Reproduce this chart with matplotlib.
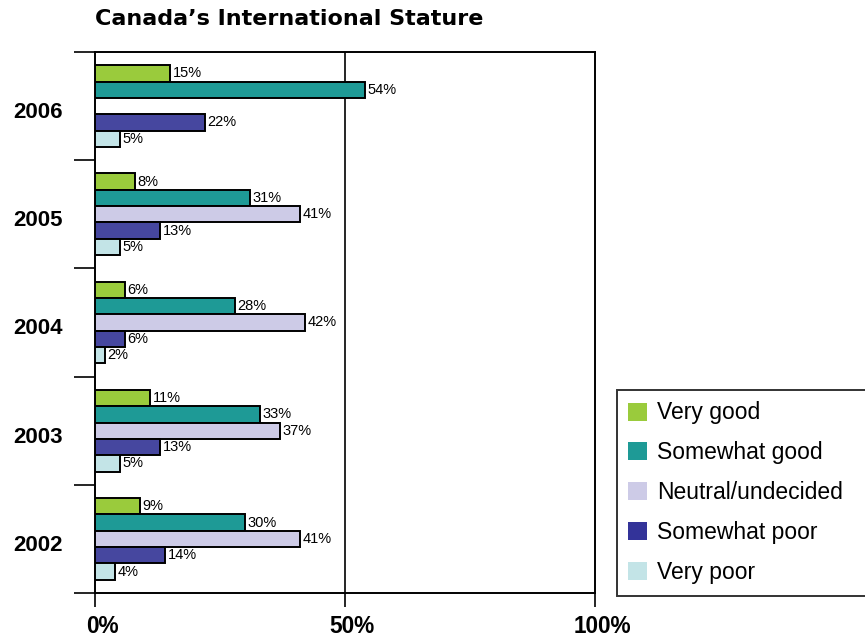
import matplotlib
matplotlib.use("Agg")
import matplotlib.pyplot as plt
from matplotlib.patches import Patch
import matplotlib.transforms as mtransforms
import numpy as np

years = ["2002", "2003", "2004", "2005", "2006"]
categories = ["Very good", "Somewhat good", "Neutral/undecided", "Somewhat poor", "Very poor"]
very_good = [9, 11, 6, 8, 15]
somewhat_good = [30, 33, 28, 31, 54]
neutral = [41, 37, 42, 41, None]
somewhat_poor = [14, 13, 6, 13, 22]
very_poor = [4, 5, 2, 5, 5]
series = [very_good, somewhat_good, neutral, somewhat_poor, very_poor]
bar_colors = ["#9ACB3C", "#1E9A96", "#CDCBE7", "#46479F", "#C3E4E7"]
legend_colors = ["#9ACB3C", "#1E9A96", "#CDCBE7", "#333399", "#C3E4E7"]
xtick_vals = [0, 50, 100]
xtick_labels = ["0%", "50%", "100%"]

W, H = 865, 639
fig = plt.figure(figsize=(W / 100, H / 100), dpi=100)
ax = fig.add_axes([95 / W, 1 - 593 / H, 500 / W, (593 - 52) / H])

h = 16.3 / 108
for j, (vals, col) in enumerate(zip(series, bar_colors)):
    for i, v in enumerate(vals):
        if v is None:
            continue
        y = i + (2 - j) * h
        ax.barh(y, v, height=h, color=col, edgecolor="black", linewidth=1.4, zorder=3)
        ax.text(v + 0.5, y, f"{v}%", va="center", ha="left", fontsize=10.5,
                family="Liberation Sans", zorder=4)

ax.set_xlim(0, 100)
ax.set_ylim(-0.5, len(years) - 0.5)
ax.axvline(50, color="black", lw=1.2, zorder=2)

ax.set_yticks(range(len(years)))
ax.set_yticklabels(years, fontsize=16, fontweight="bold", family="Liberation Sans")
ax.tick_params(axis="y", which="major", length=0, pad=23)
ax.set_yticks(np.arange(-0.5, len(years), 1.0), minor=True)
ax.tick_params(axis="y", which="minor", length=15, width=1.2, color="black")
yoff = mtransforms.ScaledTranslation(0, -4 / 100, fig.dpi_scale_trans)
for lbl in ax.get_yticklabels():
    lbl.set_transform(lbl.get_transform() + yoff)

ax.set_xticks(xtick_vals)
ax.set_xticklabels(xtick_labels, fontsize=16.3, fontweight="bold",
                   family=["Liberation Sans Narrow", "Liberation Sans"])
ax.tick_params(axis="x", which="major", length=10, width=1.2, pad=6)
offset = mtransforms.ScaledTranslation(7 / 100, 0, fig.dpi_scale_trans)
for lbl in ax.get_xticklabels():
    lbl.set_transform(lbl.get_transform() + offset)

for s in ax.spines.values():
    s.set_linewidth(1.4)
    s.set_color("black")

fig.text(95 / W, 1 - 19 / H, "Canada\u2019s International Stature", fontsize=16,
         fontweight="heavy", family="DejaVu Sans", va="center", ha="left")

handles = [Patch(facecolor=c, edgecolor="none") for c in legend_colors]
leg = fig.legend(handles, categories, loc="upper left", mode="expand",
                 bbox_to_anchor=(617 / W, 46 / H, 300 / W, (593 - 390) / H),
                 frameon=True, fancybox=False, edgecolor="black",
                 handlelength=0.83, handleheight=0.83, handletextpad=0.4,
                 labelspacing=0.74, borderpad=0.5, borderaxespad=0,
                 prop={"family": "Liberation Sans", "size": 16.5})
leg.get_frame().set_linewidth(1.4)

fig.savefig("out.png", dpi=100)
